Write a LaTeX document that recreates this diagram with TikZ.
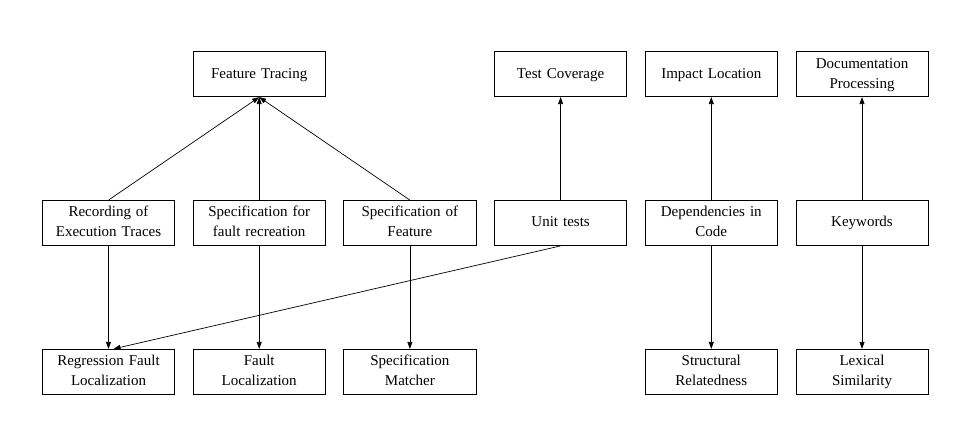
\documentclass[tikz,border=0pt]{standalone}
\usepackage{fontspec}
\setmainfont{Liberation Serif}
\usetikzlibrary{positioning,arrows.meta}

\tikzset{
    box/.style={draw, line width=0.8pt, minimum width=132.2pt, minimum height=45pt,
        text width=126pt, align=center, inner sep=0pt,
        font=\fontsize{15}{20}\selectfont,
        execute at begin node=\strut, execute at end node=\strut},
    link/.style={-{Triangle[length=7pt,width=5pt]}, line width=0.7pt},
}

\begin{document}
\begin{tikzpicture}[x=1pt, y=1pt, node distance=103pt and 17.7pt]
    \useasboundingbox (0,0) rectangle (956,-422);
    % middle row
    \node[box] (rec) at (108.5,-223) {Recording of\\Execution Traces};
    \node[box, right=of rec] (sfr) {Specification for\\fault recreation};
    \node[box, right=of sfr] (sof) {Specification of\\Feature};
    \node[box, right=of sof] (ut) {Unit tests};
    \node[box, right=of ut] (dep) {Dependencies in\\Code};
    \node[box, right=of dep] (kw) {Keywords};
    % top row
    \node[box, above=of sfr] (ft) {Feature Tracing};
    \node[box, above=of ut] (tc) {Test Coverage};
    \node[box, above=of dep] (il) {Impact Location};
    \node[box, above=of kw] (dp) {Documentation\\Processing};
    % bottom row
    \node[box, below=of rec] (rfl) {Regression Fault\\Localization};
    \node[box, below=of sfr] (fl) {Fault\\Localization};
    \node[box, below=of sof] (sm) {Specification\\Matcher};
    \node[box, below=of dep] (sr) {Structural\\Relatedness};
    \node[box, below=of kw] (ls) {Lexical\\Similarity};

    \draw[link] (rec.north) -- (ft.south);
    \draw[link] (sfr.north) -- (ft.south);
    \draw[link] (sof.north) -- (ft.south);
    \draw[link] (ut) -- (tc);
    \draw[link] (dep) -- (il);
    \draw[link] (kw) -- (dp);

    \draw[link] (rec) -- (rfl);
    \draw[link] (ut.south) -- ([xshift=5pt]rfl.north);
    \draw[link] (sfr) -- (fl);
    \draw[link] (sof) -- (sm);
    \draw[link] (dep) -- (sr);
    \draw[link] (kw) -- (ls);
\end{tikzpicture}
\end{document}
